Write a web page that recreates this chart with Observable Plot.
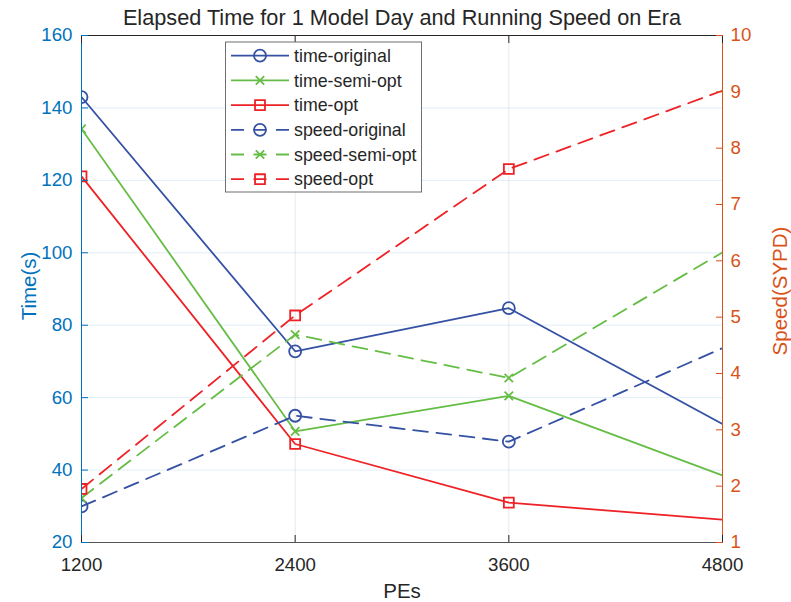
<!DOCTYPE html>
<html>
<head>
<meta charset="utf-8">
<script src="https://cdn.jsdelivr.net/npm/d3@7"></script>
<script src="https://cdn.jsdelivr.net/npm/@observablehq/plot@0.6"></script>
<style>
  html, body { margin: 0; padding: 0; background: #fff; }
</style>
</head>
<body>
<div id="chart"></div>
<script>
// Processor counts (x) and measurements per configuration
const pes = [1200, 2400, 3600, 4800];
const timeOriginal = [143.0, 72.8, 84.7, 52.7];
const timeSemiOpt  = [134.2, 50.7, 60.5, 38.5];
const timeOpt      = [121.1, 47.2, 31.0, 26.3];
const speedOriginal = [1.64, 3.25, 2.79, 4.45];
const speedSemiOpt  = [1.79, 4.69, 3.92, 6.15];
const speedOpt      = [1.95, 5.03, 7.63, 9.02];

const timeTicks = [20, 40, 60, 80, 100, 120, 140, 160];
const speedTicks = [1, 2, 3, 4, 5, 6, 7, 8, 9, 10];
const xTicks = [1200, 2400, 3600, 4800];

const titleText = "Elapsed Time for 1 Model Day and Running Speed on Era";

// Speed lives on a right-hand axis; map it onto the time scale's range.
const tMin = 20, tMax = 160, sMin = 1, sMax = 10;
const toTime = s => tMin + (s - sMin) * (tMax - tMin) / (sMax - sMin);
const fromTime = t => sMin + (t - tMin) * (sMax - sMin) / (tMax - tMin);

const BLUE = "#3451a3", GREEN = "#66bd45", RED = "#ee2226";
const LEFT_AXIS = "#0072bd", RIGHT_AXIS = "#d95319", INK = "#262626";
const FONT = "'Liberation Sans', Arial, Helvetica, sans-serif";
const LW = 1.8;

const series = [
  {name: "time-original",    values: timeOriginal,  speed: false, color: BLUE,  symbol: "circle"},
  {name: "time-semi-opt",    values: timeSemiOpt,   speed: false, color: GREEN, symbol: "times"},
  {name: "time-opt",         values: timeOpt,       speed: false, color: RED,   symbol: "square"},
  {name: "speed-original",   values: speedOriginal, speed: true,  color: BLUE,  symbol: "circle"},
  {name: "speed-semi-opt",   values: speedSemiOpt,  speed: true,  color: GREEN, symbol: "times"},
  {name: "speed-opt",        values: speedOpt,      speed: true,  color: RED,   symbol: "square"}
];

const symbolR = {circle: 6, times: 3.9, square: 5.6};

const seriesMarks = series.flatMap(s => {
  const rows = pes.map((p, i) => ({pe: p, v: s.speed ? toTime(s.values[i]) : s.values[i]}));
  return [
    Plot.line(rows, {
      x: "pe", y: "v", stroke: s.color, strokeWidth: LW,
      strokeDasharray: s.speed ? "14.8,8.6" : null, clip: true
    }),
    // markers at the right edge fall outside the drawn range
    Plot.dot(rows.filter(d => d.pe < 4800), {
      x: "pe", y: "v", stroke: s.color, strokeWidth: LW, fill: "none",
      symbol: () => s.symbol, r: symbolR[s.symbol], clip: true
    })
  ];
});

const chart = Plot.plot({
  width: 791,
  height: 602,
  marginLeft: 81,
  marginRight: 69,
  marginTop: 35,
  marginBottom: 60,
  style: {fontFamily: FONT, background: "#fff", overflow: "visible"},
  x: {type: "linear", domain: [1200, 4800]},
  y: {type: "linear", domain: [tMin, tMax]},
  symbol: {type: "identity"},
  marks: [
    // grid
    Plot.ruleY(timeTicks.slice(1, -1), {stroke: LEFT_AXIS, strokeOpacity: 0.12}),
    Plot.ruleX(xTicks.slice(1, -1), {stroke: INK, strokeOpacity: 0.1}),
    ...seriesMarks,
    // box
    Plot.ruleY([tMax], {stroke: INK, strokeWidth: 1}),
    Plot.ruleY([tMin], {stroke: "#555", strokeWidth: 1}),
    Plot.ruleX([1200], {stroke: LEFT_AXIS, strokeWidth: 1}),
    Plot.ruleX([4800], {stroke: RIGHT_AXIS, strokeWidth: 1}),
    // axes
    Plot.axisX(xTicks, {
      anchor: "bottom", tickSize: -7, tickPadding: 22, fontSize: 18.7,
      color: INK, tickFormat: d => String(d), label: null
    }),
    Plot.axisX(xTicks, {
      anchor: "top", tickSize: -7, tickFormat: () => "", color: INK, label: null
    }),
    Plot.axisY(timeTicks, {
      anchor: "left", tickSize: -7, tickPadding: 16, fontSize: 18.7,
      color: LEFT_AXIS, tickFormat: d => String(d), label: null
    }),
    Plot.axisY(speedTicks.map(toTime), {
      anchor: "right", tickSize: -7, tickPadding: 15, fontSize: 18.7,
      color: RIGHT_AXIS, tickFormat: t => String(Math.round(fromTime(t))), label: null
    }),
    // titles
    Plot.text([titleText], {
      frameAnchor: "top", dy: -17, fontSize: 21.7, fill: INK,
      lineAnchor: "middle", textAnchor: "middle"
    }),
    Plot.text(["PEs"], {
      frameAnchor: "bottom", dy: 49, fontSize: 20.5, fill: INK,
      lineAnchor: "middle", textAnchor: "middle"
    }),
    Plot.text(["Time(s)"], {
      frameAnchor: "left", dx: -52, dy: -3, rotate: -90, fontSize: 20.5,
      fill: LEFT_AXIS, lineAnchor: "middle", textAnchor: "middle"
    }),
    Plot.text(["Speed(SYPD)"], {
      frameAnchor: "right", dx: 58, dy: 2, rotate: -90, fontSize: 20.5,
      fill: RIGHT_AXIS, lineAnchor: "middle", textAnchor: "middle"
    })
  ]
});

// Legend box in the upper part of the plot area
const svg = d3.select(chart);
const lg = svg.append("g").attr("font-family", FONT).attr("text-anchor", "start");
const box = {x: 225.5, y: 42, w: 196, h: 150};
lg.append("rect")
  .attr("x", box.x).attr("y", box.y).attr("width", box.w).attr("height", box.h)
  .attr("fill", "#fff").attr("stroke", "#6f6f6f").attr("stroke-width", 1);

const sym = {circle: d3.symbolCircle, times: d3.symbolTimes, square: d3.symbolSquare};
series.forEach((s, i) => {
  const cy = 55.7 + i * 24.7;
  lg.append("line")
    .attr("x1", 231).attr("x2", 289).attr("y1", cy).attr("y2", cy)
    .attr("stroke", s.color).attr("stroke-width", LW)
    .attr("stroke-dasharray", s.speed ? "13,9.5" : null);
  const r = symbolR[s.symbol];
  lg.append("path")
    .attr("transform", `translate(260,${cy})`)
    .attr("d", d3.symbol(sym[s.symbol], r * r * Math.PI)())
    .attr("fill", "none")
    .attr("stroke", s.color).attr("stroke-width", LW);
  lg.append("text")
    .attr("x", 294).attr("y", cy).attr("dy", "0.35em")
    .attr("font-size", 17.8).attr("fill", INK)
    .text(s.name);
});

document.getElementById("chart").appendChild(chart);
</script>
</body>
</html>
